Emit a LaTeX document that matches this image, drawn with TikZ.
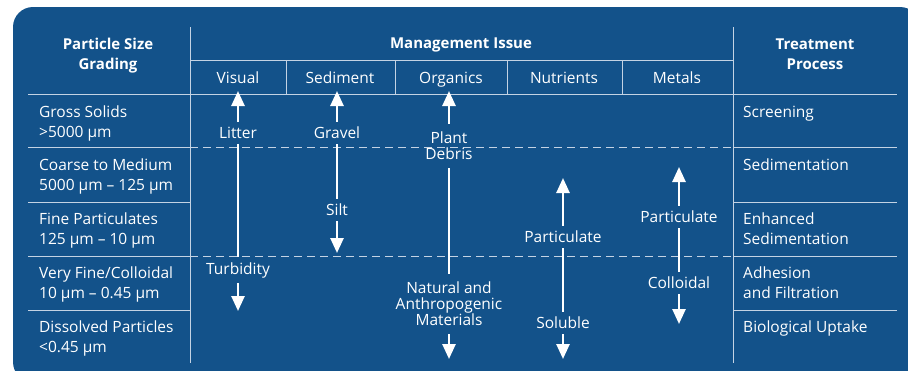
\documentclass[tikz,border=0pt]{standalone}
\usepackage{fontspec}
\setmainfont{Open Sans}
\usetikzlibrary{arrows.meta}
\definecolor{panel}{RGB}{19,82,138}
\definecolor{rulecol}{RGB}{196,211,228}
\begin{document}
\begin{tikzpicture}[x=1pt,y=-1pt,
    every node/.style={text=white,font=\fontsize{15.5}{20}\selectfont},
    rulebar/.style={draw=rulecol,line width=1pt},
    dashrule/.style={rulebar,dash pattern=on 8pt off 5pt},
    head/.style={font=\bfseries\fontsize{15}{20}\selectfont,align=center},
    issue/.style={anchor=base},
    grade/.style={anchor=north west,align=left,inner sep=0pt},
    tag/.style={align=center,inner xsep=2pt,inner ysep=5pt,font=\fontsize{15.5}{16}\selectfont},
    shaft/.style={draw=white,line width=2.6pt},
    arr/.style={shaft,-{Triangle[width=13pt,length=15pt]}}]
    \begin{scope}
        \clip (0,0) rectangle (908,370);
        \fill[panel,rounded corners=20pt] (13,7) rectangle (920,382);
    \end{scope}
    \useasboundingbox (0,0) rectangle (908,370);

    \draw[rulebar] (190,27) -- (190,363);
    \draw[rulebar] (733,27) -- (733,363);
    \draw[rulebar] (190,60) -- (733,60);
    \draw[rulebar] (28,94) -- (897,94);
    \foreach \x in {286,395,507,622}
        \draw[rulebar] (\x,60) -- (\x,94);
    \foreach \y in {147,202,256,310} {
        \draw[rulebar] (28,\y) -- (190,\y);
        \draw[rulebar] (733,\y) -- (897,\y);
    }
    \foreach \y in {147,256}
        \draw[dashrule] (190,\y) -- (733,\y);

    \node[head] (grading) at (108,55.5) {Particle Size\\Grading};
    \node[head] (management) at (461,44.5) {Management Issue};
    \node[head] (process) at (815,54.5) {Treatment\\Process};

    \node[issue] (visual) at (238,83.5) {Visual};
    \node[issue] (sediment) at (340,83.5) {Sediment};
    \node[issue] (organics) at (451,83.5) {Organics};
    \node[issue] (nutrients) at (564,83.5) {Nutrients};
    \node[issue] (metals) at (677,83.5) {Metals};

    \node[grade] (gross) at (39,106) {Gross Solids\\>5000 µm};
    \node[grade] (coarse) at (39,159) {Coarse to Medium\\5000 µm -- 125 µm};
    \node[grade] (fine) at (39,213) {Fine Particulates\\125 µm -- 10 µm};
    \node[grade] (veryfine) at (39,267) {Very Fine/Colloidal\\10 µm -- 0.45 µm};
    \node[grade] (dissolved) at (39,321) {Dissolved Particles\\<0.45 µm};

    \node[grade] (screening) at (743,106) {Screening};
    \node[grade] (sedimentation) at (743,159) {Sedimentation};
    \node[grade] (enhanced) at (743,213) {Enhanced\\Sedimentation};
    \node[grade] (adhesion) at (743,267) {Adhesion\\and Filtration};
    \node[grade] (uptake) at (743,321) {Biological Uptake};

    \node[tag] (litter) at (238,133) {Litter};
    \node[tag] (turbidity) at (238,270) {Turbidity};
    \coordinate (visualtop) at (238,91);
    \coordinate (visualend) at (238,311);
    \draw[arr] (litter) -- (visualtop);
    \draw[shaft] (litter) -- (turbidity);
    \draw[arr] (turbidity) -- (visualend);

    \node[tag] (gravel) at (337,133) {Gravel};
    \node[tag] (silt) at (337,210) {Silt};
    \coordinate (sedtop) at (337,91);
    \coordinate (sedend) at (337,253);
    \draw[arr] (gravel) -- (sedtop);
    \draw[shaft] (gravel) -- (silt);
    \draw[arr] (silt) -- (sedend);

    \node[tag,inner ysep=8pt] (debris) at (449,146) {Plant\\Debris};
    \node[tag,inner ysep=8pt] (materials) at (449,304) {Natural and\\Anthropogenic\\Materials};
    \coordinate (orgtop) at (449,91);
    \coordinate (orgend) at (449,359);
    \draw[arr] (debris) -- (orgtop);
    \draw[shaft] (debris) -- (materials);
    \draw[arr] (materials) -- (orgend);

    \node[tag] (nutpart) at (563,237) {Particulate};
    \node[tag] (soluble) at (563,323) {Soluble};
    \coordinate (nuttop) at (563,178);
    \coordinate (nutend) at (563,359);
    \draw[arr] (nutpart) -- (nuttop);
    \draw[shaft] (nutpart) -- (soluble);
    \draw[arr] (soluble) -- (nutend);

    \node[tag] (metpart) at (679,217) {Particulate};
    \node[tag] (colloidal) at (679,283) {Colloidal};
    \coordinate (mettop) at (679,167);
    \coordinate (metend) at (679,324);
    \draw[arr] (metpart) -- (mettop);
    \draw[shaft] (metpart) -- (colloidal);
    \draw[arr] (colloidal) -- (metend);
\end{tikzpicture}
\end{document}
